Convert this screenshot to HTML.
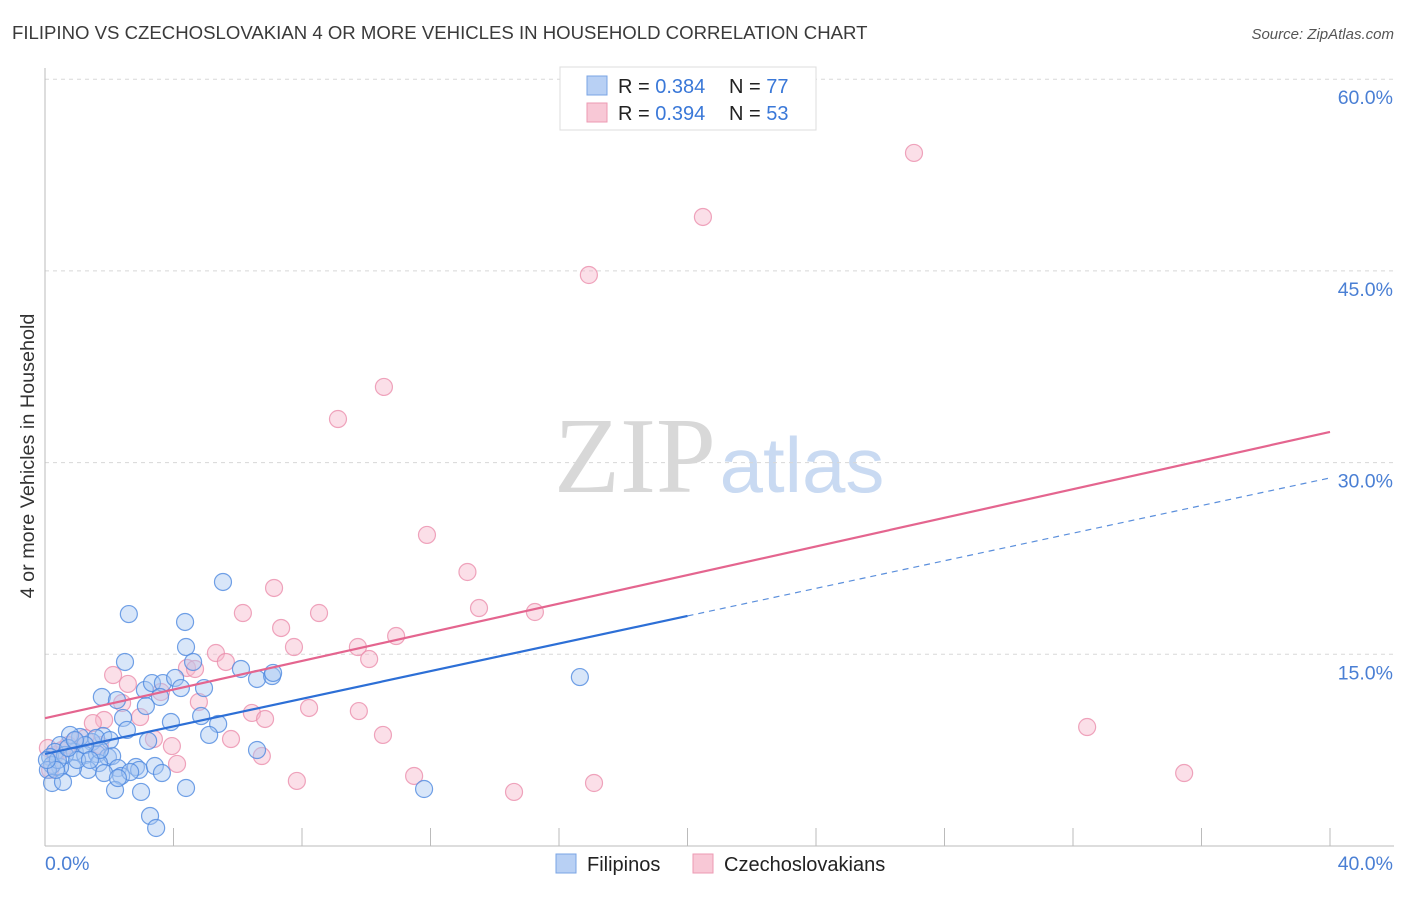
<!DOCTYPE html>
<html><head><meta charset="utf-8"><style>
body{margin:0;background:#fff;font-family:"Liberation Sans",sans-serif}
</style></head><body>
<svg id="chart" width="1406" height="892" xmlns="http://www.w3.org/2000/svg" font-family="Liberation Sans, sans-serif">
<text x="12" y="39" font-size="18.6" fill="#3a3a3a">FILIPINO VS CZECHOSLOVAKIAN 4 OR MORE VEHICLES IN HOUSEHOLD CORRELATION CHART</text>
<text x="1394" y="39" font-size="15" fill="#555" font-style="italic" text-anchor="end">Source: ZipAtlas.com</text>
<text transform="translate(34,456) rotate(-90)" font-size="19.8" fill="#333" text-anchor="middle">4 or more Vehicles in Household</text>
<g>
<text x="635" y="492" font-size="108" font-family="Liberation Serif, serif" fill="#d8d8d8" text-anchor="middle">ZIP</text>
<text x="802" y="492" font-size="78" fill="#c9daf2" text-anchor="middle">atlas</text>
</g>
<g id="grid"></g>
<g id="axes"></g>
<g id="marks"></g>
<g>
<rect x="560" y="67" width="256" height="63" fill="#fff" stroke="#ddd"/>
<rect x="587" y="76" width="20" height="19" fill="#b8d0f4" stroke="#7aa4e4"/>
<rect x="587" y="103" width="20" height="19" fill="#f8c8d6" stroke="#ec9ab3"/>
<text x="618" y="93" font-size="20" fill="#222">R = <tspan fill="#3a78d8">0.384</tspan></text>
<text x="729" y="93" font-size="20" fill="#222">N = <tspan fill="#3a78d8">77</tspan></text>
<text x="618" y="120" font-size="20" fill="#222">R = <tspan fill="#3a78d8">0.394</tspan></text>
<text x="729" y="120" font-size="20" fill="#222">N = <tspan fill="#3a78d8">53</tspan></text>
</g>
<g>
<rect x="556" y="854" width="20" height="19" fill="#b8d0f4" stroke="#7aa4e4"/>
<text x="587" y="871" font-size="20" fill="#222">Filipinos</text>
<rect x="693" y="854" width="20" height="19" fill="#f8c8d6" stroke="#ec9ab3"/>
<text x="724" y="871" font-size="20" fill="#222">Czechoslovakians</text>
</g>
</svg>
<script>
const blueX=[5.54,2.61,4.36,4.39,2.49,4.61,1.77,2.24,3.11,3.33,3.67,4.05,4.23,4.95,3.58,3.14,6.10,6.60,7.07,2.43,3.92,4.86,5.39,2.55,5.11,3.21,6.60,16.65,1.81,1.46,1.09,0.78,0.47,0.31,0.16,0.93,1.25,1.62,1.96,2.09,2.27,1.68,1.34,0.87,0.47,0.22,0.09,0.22,0.56,1.84,2.37,2.83,2.93,3.42,3.64,2.18,2.99,4.39,3.27,3.46,11.80,1.59,2.02,0.62,1.00,1.71,0.40,1.25,0.72,2.65,2.27,0.34,0.06,0.93,1.40,7.10];
const blueY=[20.66,18.15,17.53,15.57,14.40,14.40,11.66,11.42,12.21,12.75,12.75,13.15,12.36,12.36,11.66,10.95,13.85,13.07,13.30,10.02,9.70,10.17,9.55,9.08,8.69,8.22,7.51,13.22,8.61,8.14,8.53,8.69,7.90,7.36,6.96,7.36,7.12,7.20,6.96,7.04,6.10,6.49,5.95,6.10,6.18,6.34,5.95,4.93,5.01,5.71,5.48,6.18,5.95,6.26,5.71,4.38,4.23,4.54,2.35,1.41,4.46,8.45,8.29,7.12,6.73,7.51,6.73,7.90,7.67,5.79,5.32,5.95,6.73,8.29,6.73,13.54];
const pinkX=[27.05,20.48,16.93,10.55,9.12,11.89,13.15,7.13,13.51,15.25,6.16,8.53,7.35,10.93,7.75,9.74,10.09,5.32,5.63,4.42,4.67,2.12,2.58,3.61,4.79,2.40,8.22,9.77,6.44,6.85,2.96,1.84,1.49,32.44,5.79,3.39,10.52,3.95,6.75,0.93,0.53,4.11,11.49,35.46,7.84,17.09,14.60,0.16,0.31,1.25,0.09,0.72,1.71];
const pinkY=[54.23,49.22,44.68,35.92,33.41,24.34,21.44,20.19,18.62,18.31,18.23,18.23,17.06,16.43,15.57,15.57,14.63,15.10,14.40,13.93,13.85,13.38,12.68,12.05,11.27,11.19,10.80,10.56,10.41,9.94,10.09,9.86,9.62,9.31,8.37,8.37,8.69,7.82,7.04,8.22,7.51,6.42,5.48,5.71,5.09,4.93,4.23,5.95,7.12,8.45,7.67,7.90,7.90];
const blueTrend=[7.2,0.54];
const pinkTrend=[10.0,0.56];
const blueSolidEnd=[20.0];
const yTicks=[15,30,45,60];
const yTickLabels=["15.0%","30.0%","45.0%","60.0%"];
const xTickCount=[0,1,2,3,4,5,6,7,8,9,10];

const NS="http://www.w3.org/2000/svg";
const X0=45,X1=1330,Y0=846,YPER=12.78;
function sx(v){return X0+(X1-X0)*v/40;}
function sy(v){return Y0-v*YPER;}
function mk(tag,attrs,parent){const e=document.createElementNS(NS,tag);for(const k in attrs)e.setAttribute(k,attrs[k]);parent.appendChild(e);return e;}
const grid=document.getElementById('grid'),axes=document.getElementById('axes'),marks=document.getElementById('marks');
yTicks.forEach((t,i)=>{
  const l=mk('line',{x1:X0,x2:1394,y1:sy(t),y2:sy(t),stroke:'#d8d8d8','stroke-dasharray':'4,4'},grid);
  
  
  const tx=mk('text',{x:1393,y:sy(t)+25,'font-size':19.5,fill:'#4a7fd4','text-anchor':'end'},axes);
  tx.textContent=yTickLabels[i];
  
  
});
const ax=mk('line',{x1:X0,x2:1394,y1:Y0,y2:Y0,stroke:'#bbb'},axes);


const ay=mk('line',{x1:X0,x2:X0,y1:68,y2:Y0,stroke:'#bbb'},axes);


xTickCount.forEach(i=>{
  const x=sx(i*4);
  const t=mk('line',{x1:x,x2:x,y1:828,y2:Y0,stroke:'#bbb'},axes);
  
  
});
const xl0=mk('text',{x:45,y:870,'font-size':19.5,fill:'#4a7fd4'},axes);xl0.textContent='0.0%';


const xl1=mk('text',{x:1393,y:870,'font-size':19.5,fill:'#4a7fd4','text-anchor':'end'},axes);xl1.textContent='40.0%';


function dots(xs,ys,fill,stroke,name){
  xs.forEach((v,i)=>{
    const c=mk('circle',{cx:sx(v),cy:sy(ys[i]),r:8.5,fill:fill,'fill-opacity':0.45,stroke:stroke,'stroke-opacity':0.8,'stroke-width':1.2},marks);
    
    
  });
}
dots(pinkX,pinkY,'#f7b8cb','#eb8fac','czechoslovakian-point');
dots(blueX,blueY,'#a9c8f2','#4f8ae0','filipino-point');
const pl=mk('line',{x1:sx(0),y1:sy(pinkTrend[0]),x2:sx(40),y2:sy(pinkTrend[0]+40*pinkTrend[1]),stroke:'#e4658f','stroke-width':2.2},marks);


const e=blueSolidEnd[0];
const bl=mk('line',{x1:sx(0),y1:sy(blueTrend[0]),x2:sx(e),y2:sy(blueTrend[0]+e*blueTrend[1]),stroke:'#2d6fd6','stroke-width':2.2},marks);


const bd=mk('line',{x1:sx(e),y1:sy(blueTrend[0]+e*blueTrend[1]),x2:sx(40),y2:sy(blueTrend[0]+40*blueTrend[1]),stroke:'#5b8fdc','stroke-width':1.2,'stroke-dasharray':'6,5'},marks);


</script>
</body></html>
